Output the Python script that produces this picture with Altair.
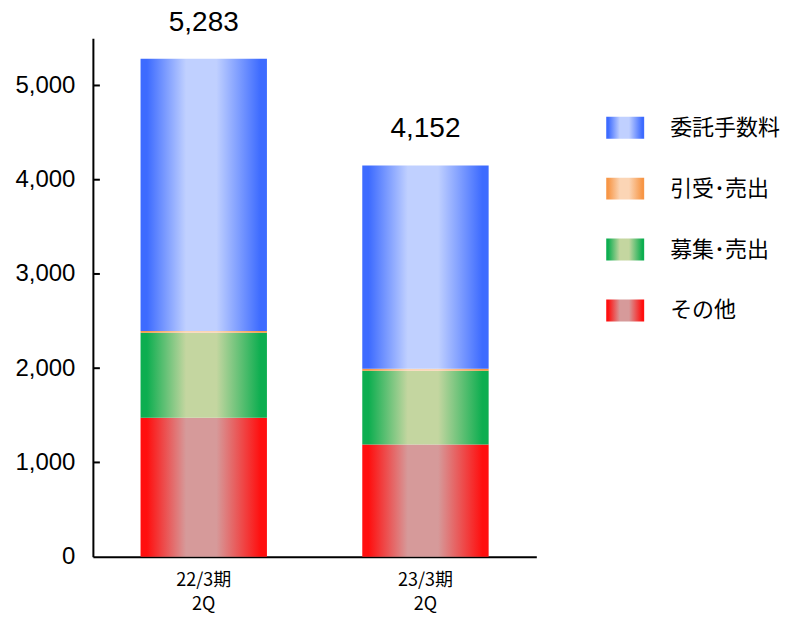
import altair as alt
import pandas as pd

# ---- data ----
periods = ["22/3期\n2Q", "23/3期\n2Q"]
series = ["その他", "募集･売出", "引受･売出", "委託手数料"]  # bottom -> top
other = [1475, 1190]
boshu = [900, 782]
hikiuke = [20, 22]
itaku = [2888, 2158]
totals = [5283, 4152]
legend_order = ["委託手数料", "引受･売出", "募集･売出", "その他"]
y_ticks = [0, 1000, 2000, 3000, 4000, 5000]
inner_ticks = [1000, 2000, 3000, 4000, 5000]

# gradient colours (edge, centre)
palette = {
    "委託手数料": ("#3D6BFF", "#C0D0FF"),
    "引受･売出": ("#F79646", "#FBD5B5"),
    "募集･売出": ("#0DAE50", "#C4D6A0"),
    "その他": ("#FF0F0F", "#D69A9A"),
}


def grad(name):
    edge, mid = palette[name]
    return alt.LinearGradient(
        gradient="linear",
        stops=[
            alt.GradientStop(offset=0, color=edge),
            alt.GradientStop(offset=0.05, color=edge),
            alt.GradientStop(offset=0.36, color=mid),
            alt.GradientStop(offset=0.6, color=mid),
            alt.GradientStop(offset=0.95, color=edge),
            alt.GradientStop(offset=1, color=edge),
        ],
        x1=0, x2=1, y1=0, y2=0,
    )


values = {"その他": other, "募集･売出": boshu, "引受･売出": hikiuke, "委託手数料": itaku}
rows = []
for i, p in enumerate(periods):
    for k, s in enumerate(series):
        rows.append({"period": p, "series": s, "value": values[s][i], "order": k})
df = pd.DataFrame(rows)
df_tot = pd.DataFrame({"period": periods, "total": totals})
df_ticks = pd.DataFrame({"tick": inner_ticks})
df_leg = pd.DataFrame({"series": legend_order})

W, H = 444, 519

x_enc = alt.X(
    "period:N",
    sort=periods,
    scale=alt.Scale(paddingInner=0.43, paddingOuter=0.215),
    axis=alt.Axis(
        title=None, labelAngle=0, ticks=False, labelExpr="split(datum.label, '\\n')",
        labelFont="Noto Sans CJK JP", labelFontSize=18, labelColor="#000000",
        labelPadding=15, labelLineHeight=24, domainColor="#000000", domainWidth=2,
    ),
)
y_scale = alt.Scale(domain=[0, 5500], nice=False)
y_axis = alt.Axis(
    title=None, values=y_ticks, format=",d", ticks=False, grid=False,
    labelFont="Liberation Sans", labelFontSize=24, labelColor="#000000",
    labelPadding=18, domainColor="#000000", domainWidth=2,
)

base = alt.Chart(df).transform_stack(
    stack="value", groupby=["period"],
    sort=[alt.SortField("order", order="ascending")], as_=["y0", "y1"],
)

bars = [
    base.transform_filter(alt.datum.series == s)
    .mark_bar(color=grad(s))
    .encode(x=x_enc, y=alt.Y("y0:Q", scale=y_scale, axis=y_axis), y2="y1:Q")
    for s in series
]

tot = alt.Chart(df_tot).mark_text(
    font="Liberation Sans", fontSize=28, baseline="alphabetic", dy=-28, color="#000000"
).encode(
    x=alt.X("period:N", sort=periods),
    y=alt.Y("total:Q", scale=y_scale),
    text=alt.Text("total:Q", format=","),
)

ticks = alt.Chart(df_ticks).mark_rule(color="#000000", strokeWidth=2).encode(
    y=alt.Y("tick:Q", scale=y_scale),
    x=alt.value(1),
    x2=alt.value(7),
)

main = alt.layer(*bars, tot, ticks).properties(width=W, height=H)

yleg = alt.Y(
    "series:N", sort=legend_order, axis=None,
    scale=alt.Scale(paddingInner=0.64, paddingOuter=0.32, align=0.5),
)
leg_base = alt.Chart(df_leg)
swatches = [
    leg_base.transform_filter(alt.datum.series == s)
    .mark_rect(color=grad(s))
    .encode(y=yleg, x=alt.value(0), x2=alt.value(38))
    for s in legend_order
]
leg_text = leg_base.mark_text(
    font="Noto Sans CJK JP", fontSize=22, align="left", baseline="middle", color="#000000"
).encode(y=yleg, x=alt.value(64), text="series:N")
legend = alt.layer(*swatches, leg_text).properties(width=150, height=244)

spacer = alt.Chart(df_leg).mark_rect(opacity=0).encode(
    x=alt.value(0), x2=alt.value(1), y=alt.value(0), y2=alt.value(1)
).properties(width=150, height=39)

chart = (
    alt.hconcat(main, alt.vconcat(spacer, legend, spacing=20), spacing=70)
    .properties(padding={"left": 6, "top": 0, "right": 0, "bottom": 0})
    .configure_view(stroke=None)
)

chart.save("out.html", embed_options={"renderer": "svg", "actions": False})
